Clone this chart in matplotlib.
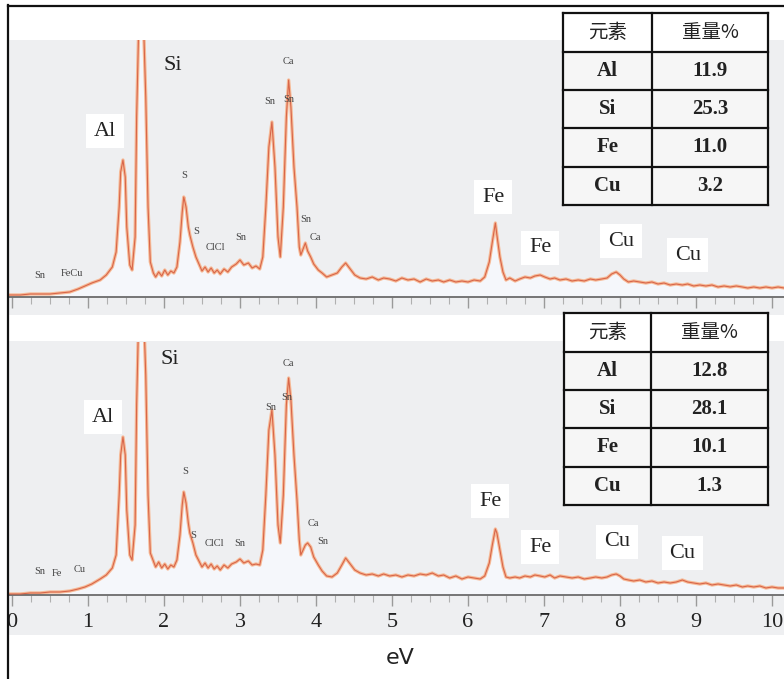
import matplotlib
matplotlib.use("Agg")
import matplotlib.pyplot as plt
from matplotlib.patches import Rectangle
from matplotlib.lines import Line2D
from matplotlib.ticker import MultipleLocator

# ---------------- data ----------------
energy_kev = [-0.03, 0.11, 0.24, 0.37, 0.50, 0.63, 0.76, 0.87, 0.96, 1.05,
              1.16, 1.24, 1.32, 1.37, 1.41, 1.43, 1.46, 1.49, 1.51, 1.55,
              1.58, 1.62, 1.64, 1.67, 1.72, 1.76, 1.79, 1.82, 1.86, 1.89,
              1.93, 1.97, 2.01, 2.05, 2.09, 2.13, 2.17, 2.21, 2.24, 2.26,
              2.29, 2.32, 2.34, 2.38, 2.42, 2.46, 2.50, 2.54, 2.58, 2.62,
              2.66, 2.70, 2.74, 2.79, 2.84, 2.89, 2.95, 3.00, 3.05, 3.11,
              3.16, 3.21, 3.26, 3.30, 3.34, 3.38, 3.42, 3.46, 3.50, 3.53,
              3.57, 3.61, 3.64, 3.67, 3.71, 3.75, 3.78, 3.80, 3.83, 3.86,
              3.89, 3.93, 3.97, 4.03, 4.08, 4.14, 4.21, 4.28, 4.34, 4.39,
              4.45, 4.51, 4.58, 4.66, 4.74, 4.82, 4.89, 4.97, 5.05, 5.13,
              5.21, 5.29, 5.37, 5.45, 5.53, 5.61, 5.68, 5.76, 5.84, 5.92,
              6.00, 6.08, 6.16, 6.22, 6.28, 6.32, 6.36, 6.38, 6.42, 6.46,
              6.50, 6.55, 6.62, 6.68, 6.75, 6.82, 6.88, 6.95, 7.01, 7.08,
              7.14, 7.21, 7.29, 7.37, 7.45, 7.53, 7.61, 7.68, 7.76, 7.83,
              7.89, 7.95, 8.00, 8.05, 8.11, 8.18, 8.26, 8.34, 8.42, 8.50,
              8.58, 8.66, 8.74, 8.82, 8.89, 8.97, 9.05, 9.13, 9.21, 9.29,
              9.37, 9.45, 9.53, 9.61, 9.68, 9.76, 9.84, 9.92, 10.00, 10.08,
              10.16]

counts_top = [2, 2, 3, 3, 3, 4, 5, 8, 11, 14,
              17, 22, 30, 45, 90, 125, 137, 120, 70, 32,
              27, 60, 180, 280, 300, 200, 90, 35, 24, 20,
              25, 21, 27, 22, 26, 24, 30, 55, 85, 100,
              90, 70, 62, 50, 40, 33, 26, 30, 25, 29,
              24, 27, 23, 28, 25, 30, 33, 37, 32, 34,
              29, 31, 28, 40, 90, 150, 175, 130, 60, 40,
              90, 180, 217, 190, 130, 90, 50, 42, 48, 54,
              46, 40, 33, 27, 24, 20, 22, 24, 30, 34,
              28, 22, 19, 18, 20, 17, 19, 18, 16, 19,
              17, 18, 15, 18, 16, 17, 15, 17, 15, 16,
              15, 17, 16, 20, 35, 55, 74, 62, 40, 25,
              17, 19, 16, 18, 20, 19, 21, 22, 20, 18,
              19, 17, 18, 16, 17, 16, 18, 17, 18, 19,
              23, 25, 22, 18, 15, 16, 15, 14, 15, 13,
              14, 12, 13, 12, 13, 11, 12, 11, 12, 10,
              11, 10, 11, 10, 9, 10, 9, 10, 9, 10,
              9]

counts_bottom = [1, 1, 2, 2, 3, 3, 4, 6, 8, 11,
                 16, 20, 27, 40, 100, 140, 158, 140, 85, 40,
                 35, 70, 190, 290, 310, 220, 100, 42, 34, 28,
                 33, 27, 31, 26, 30, 28, 35, 60, 90, 103,
                 92, 72, 62, 52, 40, 34, 28, 32, 27, 31,
                 26, 29, 25, 30, 27, 31, 33, 36, 32, 34,
                 30, 31, 30, 45, 100, 165, 185, 140, 70, 52,
                 100, 190, 217, 195, 140, 95, 55, 40, 45, 50,
                 52, 48, 38, 30, 24, 19, 18, 22, 30, 37,
                 31, 25, 22, 20, 21, 19, 21, 19, 20, 18,
                 20, 19, 21, 20, 22, 19, 20, 17, 19, 16,
                 18, 17, 16, 19, 32, 50, 66, 62, 45, 28,
                 18, 17, 18, 17, 19, 18, 20, 19, 18, 20,
                 17, 19, 18, 17, 18, 16, 17, 18, 17, 18,
                 20, 21, 19, 16, 15, 14, 15, 13, 14, 12,
                 13, 12, 13, 15, 13, 12, 11, 12, 10, 11,
                 10, 9, 10, 8, 9, 8, 9, 7, 8, 7,
                 7]

table_header = ["元素", "重量%"]
table_elements = ["Al", "Si", "Fe", "Cu"]
wt_top = ["11.9", "25.3", "11.0", "3.2"]
wt_bottom = ["12.8", "28.1", "10.1", "1.3"]

x_ticks = [0, 1, 2, 3, 4, 5, 6, 7, 8, 9, 10]

# big peak labels (text, keV, height, white box)
big_top = [("Al", 1.22, 166, True), ("Si", 2.12, 231, False), ("Fe", 6.33, 100, True),
           ("Fe", 6.95, 49, True), ("Cu", 8.01, 56, True), ("Cu", 8.89, 42, True)]
big_bottom = [("Al", 1.20, 178, True), ("Si", 2.08, 235, False), ("Fe", 6.29, 94, True),
              ("Fe", 6.95, 48, True), ("Cu", 7.96, 53, True), ("Cu", 8.82, 42, True)]
small_top = [("Sn", 0.37, 21), ("FeCu", 0.79, 24), ("S", 2.26, 121), ("S", 2.42, 65),
             ("ClCl", 2.68, 50), ("Sn", 3.01, 59), ("Sn", 3.39, 195), ("Sn", 3.64, 197),
             ("Ca", 3.64, 235), ("Sn", 3.86, 78), ("Ca", 3.99, 59)]
small_bottom = [("Sn", 0.37, 23), ("Fe", 0.59, 21), ("Cu", 0.89, 26), ("S", 2.28, 123),
                ("S", 2.38, 59), ("ClCl", 2.66, 51), ("Sn", 3.00, 52), ("Sn", 3.41, 188),
                ("Sn", 3.62, 198), ("Ca", 3.63, 232), ("Ca", 3.96, 72), ("Sn", 4.09, 53)]

# ---------------- figure ----------------
W, H = 784, 679
fig = plt.figure(figsize=(W / 100, H / 100), dpi=100)
fig.patch.set_facecolor("white")

SERIF = ["Liberation Serif", "DejaVu Serif"]
CJK = ["Noto Sans CJK SC", "DejaVu Sans"]


def fx(px):
    return px / W


def fy(py):
    return 1 - py / H


# panel backgrounds
BG = "#eeeff1"
fig.patches.append(Rectangle((fx(8), fy(315)), fx(784) - fx(8), fy(40) - fy(315),
                             transform=fig.transFigure, facecolor=BG, edgecolor="none", zorder=-5))
fig.patches.append(Rectangle((fx(8), fy(635)), fx(784) - fx(8), fy(341) - fy(635),
                             transform=fig.transFigure, facecolor=BG, edgecolor="none", zorder=-5))

# outer frame lines
fig.lines.append(Line2D([fx(8), fx(8)], [fy(5), fy(679)], transform=fig.transFigure,
                        color="#111111", lw=1.6, zorder=10))
fig.lines.append(Line2D([fx(8), fx(784)], [fy(6), fy(6)], transform=fig.transFigure,
                        color="#111111", lw=1.6, zorder=10))

xmin = (8 - 12) / 76
xmax = (784 - 12) / 76


def make_axes(base_py, top_py, counts, big, small, show_labels):
    ax = fig.add_axes([fx(8), fy(base_py), fx(784) - fx(8), fy(top_py) - fy(base_py)])
    ax.set_zorder(2)
    ax.set_facecolor("none")
    ax.patch.set_alpha(0)
    ax.set_xlim(xmin, xmax)
    ax.set_ylim(0, base_py - top_py)
    for s in ["top", "left", "right"]:
        ax.spines[s].set_visible(False)
    ax.spines["bottom"].set_color("#6b6b6b")
    ax.spines["bottom"].set_linewidth(1.3)
    ax.set_yticks([])
    ax.set_xticks(x_ticks)
    ax.xaxis.set_minor_locator(MultipleLocator(0.25))
    ax.tick_params(axis="x", which="major", direction="out", length=8, width=1.0,
                   color="#9a9a9a", pad=5, labelsize=16, labelcolor="#222222")
    ax.tick_params(axis="x", which="minor", direction="out", length=5, width=0.8,
                   color="#b0b0b0")
    if show_labels:
        ax.set_xticklabels([str(t) for t in x_ticks], fontfamily=SERIF)
    else:
        ax.set_xticklabels([])
    ax.fill_between(energy_kev, 0, counts, color="#f5f7fb", lw=0, zorder=1)
    ax.plot(energy_kev, counts, color="#f7b48c", lw=2.4, alpha=0.9, zorder=2,
            solid_joinstyle="round")
    ax.plot(energy_kev, counts, color="#d8664a", lw=0.8, zorder=3)
    for txt, x, y, box in big:
        kw = {}
        if box:
            kw["bbox"] = dict(boxstyle="square,pad=0.35", facecolor="white", edgecolor="none")
        ax.text(x, y, txt, fontsize=16, fontfamily=SERIF, color="#222222",
                ha="center", va="center", zorder=5, **kw)
    for txt, x, y in small:
        ax.text(x, y, txt, fontsize=7.5, fontfamily=SERIF, color="#444444",
                ha="center", va="center", zorder=5)
    return ax


ax_top = make_axes(297, 40, counts_top, big_top, small_top, False)
ax_bot = make_axes(595, 342, counts_bottom, big_bottom, small_bottom, True)

fig.text(fx(400), fy(658), "eV", fontsize=16, fontfamily=["DejaVu Sans"],
         color="#222222", ha="center", va="center")


def draw_table(x0, x1, xc, rows_y, values):
    ytop, ybot = rows_y[0], rows_y[-1]
    fig.patches.append(Rectangle((fx(x0), fy(ybot)), fx(x1) - fx(x0), fy(ytop) - fy(ybot),
                                 transform=fig.transFigure, facecolor="#f6f6f6",
                                 edgecolor="none", zorder=6))
    fig.patches.append(Rectangle((fx(x0), fy(rows_y[1])), fx(x1) - fx(x0),
                                 fy(ytop) - fy(rows_y[1]), transform=fig.transFigure,
                                 facecolor="white", edgecolor="none", zorder=6))
    for y in rows_y:
        fig.lines.append(Line2D([fx(x0), fx(x1)], [fy(y), fy(y)], transform=fig.transFigure,
                                color="#111111", lw=1.6, zorder=7))
    for x in (x0, xc, x1):
        fig.lines.append(Line2D([fx(x), fx(x)], [fy(ytop), fy(ybot)], transform=fig.transFigure,
                                color="#111111", lw=1.6, zorder=7))
    c1 = (x0 + xc) / 2
    c2 = (xc + x1) / 2
    hy = (rows_y[0] + rows_y[1]) / 2
    fig.text(fx(c1), fy(hy), table_header[0], fontsize=14, fontfamily=CJK,
             ha="center", va="center", color="#222222", zorder=8)
    fig.text(fx(c2), fy(hy), table_header[1], fontsize=14, fontfamily=CJK,
             ha="center", va="center", color="#222222", zorder=8)
    for i, (el, v) in enumerate(zip(table_elements, values)):
        cy = (rows_y[i + 1] + rows_y[i + 2]) / 2
        fig.text(fx(c1), fy(cy), el, fontsize=15, fontfamily=SERIF, fontweight="bold",
                 ha="center", va="center", color="#222222", zorder=8)
        fig.text(fx(c2), fy(cy), v, fontsize=15, fontfamily=SERIF, fontweight="bold",
                 ha="center", va="center", color="#222222", zorder=8)


draw_table(563, 768, 652, [13, 52, 90, 128, 167, 205], wt_top)
draw_table(564, 768, 651, [313, 352, 390, 428, 467, 505], wt_bottom)

fig.savefig("out.png", dpi=100, facecolor="white")
